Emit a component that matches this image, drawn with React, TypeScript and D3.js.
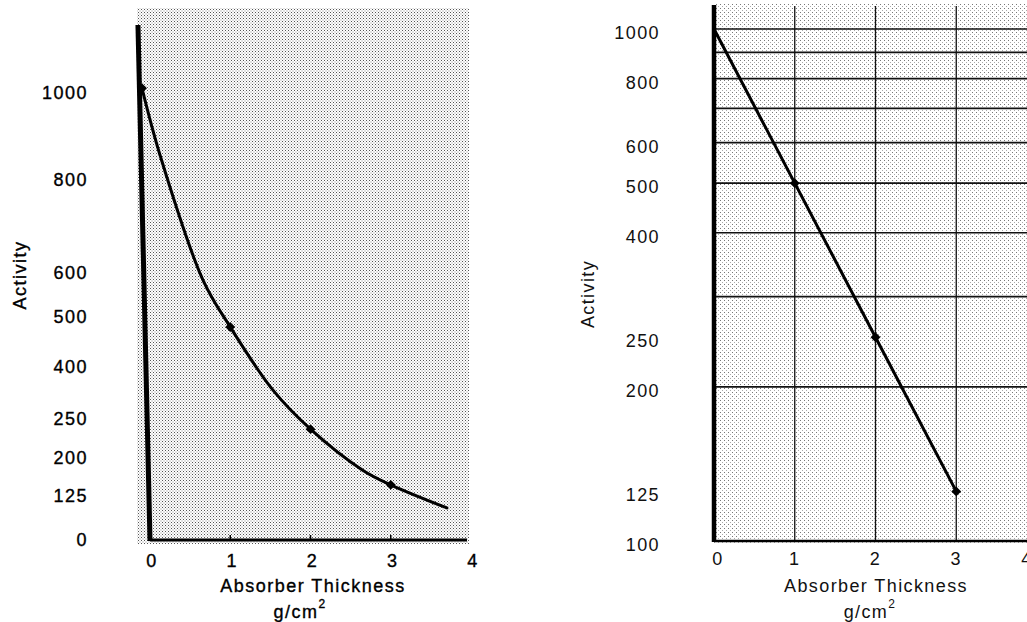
import React from 'react';
import * as d3 from 'd3';

const W = 1027;
const H = 622;

// shared x ticks (absorber thickness, g/cm2)
const xTicks = [0, 1, 2, 3, 4];

// left panel: linear plot, printed with uneven y tick spacing
const leftYTicks = [0, 125, 200, 250, 400, 500, 600, 800, 1000];
const leftCurveX = [-0.1, 0.125, 0.66, 1, 1.53, 2, 2.65, 3, 3.7];
const leftCurveY = [1011, 857, 584, 480, 334, 237, 176, 147, 91];
const leftPointX = [-0.1, 1, 2, 3];
const leftPointY = [1011, 480, 237, 147];

// right panel: semi-log plot
const rightYTicks = [1000, 800, 600, 500, 400, 250, 200, 125, 100];
const rightGrid = [100, 200, 300, 400, 500, 600, 700, 800, 900, 1000];
const rightX = [0, 1, 2, 3];
const rightY = [1000, 500, 250, 125];

const FONT = "'Liberation Sans', Arial, Helvetica, sans-serif";

const App = () => {
    // scales
    const xL = d3.scaleLinear().domain([0, 4]).range([150, 471]);
    // the printed axis is not evenly spaced, so map each labelled value to where it sits
    const yL = d3.scaleLinear().domain(leftYTicks).range([540, 496, 458, 419, 367, 317, 273, 180, 93]);

    const xR = d3.scaleLinear().domain([0, 4]).range([714, 1037]);
    const yR = d3.scaleLog().domain([100, 1000]).range([541, 29]);

    const leftLine = d3.line<number>()
        .x((_, i) => xL(leftCurveX[i]))
        .y(d => yL(d))
        .curve(d3.curveCatmullRom.alpha(0.5));

    const rightLine = d3.line<number>()
        .x((_, i) => xR(rightX[i]))
        .y(d => yR(d));

    const textL = { fontFamily: FONT, fontSize: 18, letterSpacing: 1.5, fill: '#000', stroke: '#000', strokeWidth: 0.35 };
    const textR = { fontFamily: FONT, fontSize: 18, letterSpacing: 1.4, fill: '#111' };

    return (
        <svg width={W} height={H} style={{ position: 'absolute', left: 0, top: 0, background: '#fff', display: 'block' }}>
            <defs>
                <pattern id="dotsL" width="3" height="3" patternUnits="userSpaceOnUse">
                    <rect x="0" y="0" width="1" height="1" fill="#555" />
                    <rect x="1.5" y="1.5" width="1" height="1" fill="#888" />
                </pattern>
                <pattern id="dotsR" width="4" height="4" patternUnits="userSpaceOnUse">
                    <rect x="0" y="0" width="1" height="1" fill="#777" />
                    <rect x="2" y="2" width="1" height="1" fill="#aaa" />
                </pattern>
            </defs>

            {/* ---------- left panel ---------- */}
            <rect x={137} y={8} width={332} height={536} fill="url(#dotsL)" />

            <path d={leftLine(leftCurveY) || ''} fill="none" stroke="#000" strokeWidth={3} strokeLinecap="round" />
            {leftPointY.map((v, i) => (
                <rect key={i} x={xL(leftPointX[i]) - 3.5} y={yL(v) - 3.5} width={7} height={7} fill="#000"
                    transform={`rotate(45 ${xL(leftPointX[i])} ${yL(v)})`} />
            ))}

            {/* axes (the y axis leans a little in the print) */}
            <line x1={xL(-0.15)} y1={25} x2={xL(0)} y2={yL(0) + 1} stroke="#000" strokeWidth={5} />
            <line x1={xL(0)} y1={yL(0)} x2={xL(3.95)} y2={yL(0)} stroke="#000" strokeWidth={3} />
            {xTicks.slice(1, 4).map(t => (
                <line key={t} x1={xL(t)} x2={xL(t)} y1={yL(0)} y2={yL(0) - 5} stroke="#000" strokeWidth={1.5} />
            ))}

            {leftYTicks.map(v => (
                <text key={v} x={88} y={yL(v)} textAnchor="end" dominantBaseline="central" style={textL}>{v}</text>
            ))}
            {xTicks.map(t => (
                <text key={t} x={xL(t) + 2} y={561} textAnchor="middle" dominantBaseline="central" style={textL}>{t}</text>
            ))}
            <text transform="translate(20,275) rotate(-90)" textAnchor="middle" dominantBaseline="central" style={textL}>Activity</text>
            <text x={313} y={586} textAnchor="middle" dominantBaseline="central" style={textL}>Absorber Thickness</text>
            <text x={300} y={612} textAnchor="middle" dominantBaseline="central" style={textL}>
                g/cm<tspan dy={-8} fontSize={12}>2</tspan>
            </text>

            {/* ---------- right panel ---------- */}
            <rect x={713} y={4} width={W - 713} height={539} fill="url(#dotsR)" />

            {rightGrid.map(v => (
                <line key={v} x1={xR(0)} x2={W} y1={yR(v)} y2={yR(v)} stroke="#111" strokeWidth={1.7} />
            ))}
            {xTicks.slice(1).map(t => (
                <line key={t} x1={xR(t)} x2={xR(t)} y1={6} y2={yR(100)} stroke="#111" strokeWidth={1.3} />
            ))}
            <line x1={xR(0)} x2={xR(0)} y1={5} y2={yR(100) + 1} stroke="#000" strokeWidth={4.5} />
            <line x1={xR(0)} x2={W} y1={yR(100)} y2={yR(100)} stroke="#000" strokeWidth={2.5} />

            <path d={rightLine(rightY) || ''} fill="none" stroke="#000" strokeWidth={3} strokeLinecap="round" />
            {rightY.slice(1).map((v, i) => (
                <rect key={v} x={xR(rightX[i + 1]) - 3.5} y={yR(v) - 3.5} width={7} height={7} fill="#000"
                    transform={`rotate(45 ${xR(rightX[i + 1])} ${yR(v)})`} />
            ))}

            {rightYTicks.map(v => (
                <text key={v} x={660} y={yR(v) + 4} textAnchor="end" dominantBaseline="central" style={textR}>{v}</text>
            ))}
            {xTicks.map(t => (
                <text key={t} x={xR(t) + (t === 0 ? 4 : 0) - (t === 4 ? 10 : 0)} y={559} textAnchor="middle" dominantBaseline="central" style={textR}>{t}</text>
            ))}
            <text transform="translate(588,294) rotate(-90)" textAnchor="middle" dominantBaseline="central" style={textR}>Activity</text>
            <text x={876} y={586} textAnchor="middle" dominantBaseline="central" style={textR}>Absorber Thickness</text>
            <text x={870} y={612} textAnchor="middle" dominantBaseline="central" style={textR}>
                g/cm<tspan dy={-8} fontSize={12}>2</tspan>
            </text>
        </svg>
    );
};

export default App;
